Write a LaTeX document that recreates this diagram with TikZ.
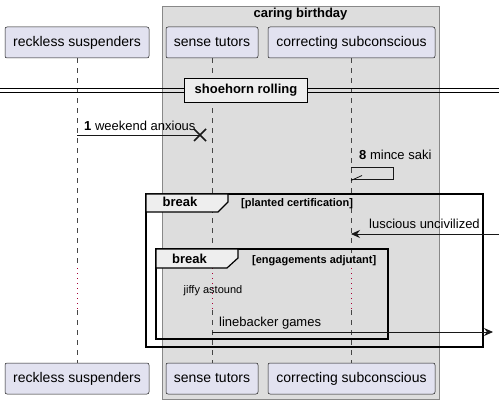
\documentclass[tikz,border=0pt]{standalone}
\usepackage{fontspec}
\setmainfont{Liberation Sans}
\usetikzlibrary{arrows.meta}
\definecolor{partfill}{HTML}{E2E2F0}
\definecolor{partline}{HTML}{181818}
\definecolor{grpfill}{HTML}{DDDDDD}
\definecolor{grpline}{HTML}{888888}
\definecolor{tabfill}{HTML}{EEEEEE}
\definecolor{delayred}{HTML}{A80036}
\begin{document}
\begin{tikzpicture}[x=1pt,y=-1pt,
  part/.style={draw=partline,line width=0.5pt,fill=partfill,rounded corners=2pt,
    minimum height=31pt,inner sep=0pt,font=\fontsize{14}{16}\selectfont},
  life/.style={draw=partline!80,line width=0.6pt,dash pattern=on 5pt off 5pt},
  delay/.style={draw=delayred,line width=0.8pt,dash pattern=on 1pt off 4pt},
  msg/.style={draw=partline,line width=0.8pt},
  msgarrow/.style={msg,-{Stealth[length=9pt,width=8pt,inset=3pt]}},
  msglabel/.style={anchor=base west,inner sep=0pt,font=\fontsize{13}{15}\selectfont},
  grptitle/.style={inner sep=0pt,font=\bfseries\fontsize{11}{13}\selectfont},
  tabtext/.style={inner sep=0pt,anchor=base,font=\bfseries\fontsize{13}{15}\selectfont},
  frame/.style={draw=black,line width=1.5pt},
  tab/.style={draw=black,line width=1.2pt,fill=tabfill}
]
\useasboundingbox (0,0) rectangle (499,404);
% group box
\draw[fill=grpfill,draw=grpline,line width=0.8pt] (162,6) rectangle (439,399);
\node[inner sep=0pt,anchor=base,font=\bfseries\fontsize{13}{15}\selectfont] (gt) at (300.5,18) {caring birthday};
% participants
\node[part,minimum width=144pt] (rs) at (77,42.5) {reckless suspenders};
\node[part,minimum width=92pt] (st) at (212,42.5) {sense tutors};
\node[part,minimum width=167pt] (cs) at (351.5,42.5) {correcting subconscious};
\node[part,minimum width=144pt] (rsb) at (77,378.5) {reckless suspenders};
\node[part,minimum width=92pt] (stb) at (212,378.5) {sense tutors};
\node[part,minimum width=167pt] (csb) at (351.5,378.5) {correcting subconscious};
% lifeline delay points
\coordinate (rsd1) at (77,268); \coordinate (rsd2) at (77,310);
\coordinate (std1) at (212,268); \coordinate (std2) at (212,310);
\coordinate (csd1) at (351,268); \coordinate (csd2) at (351,310);
\draw[life] (rs.south) -- (rsd1); \draw[delay] (rsd1) -- (rsd2); \draw[life] (rsd2) -- (rsb.north);
\draw[life] (st.south) -- (std1); \draw[delay] (std1) -- (std2); \draw[life] (std2) -- (stb.north);
\draw[life] ([xshift=-0.5pt]cs.south) -- (csd1); \draw[delay] (csd1) -- (csd2); \draw[life] (csd2) -- ([xshift=-0.5pt]csb.north);
% divider
\coordinate (dvl) at (0,90); \coordinate (dvr) at (499,90);
\node[draw=black,line width=1.5pt,fill=tabfill,minimum width=123pt,minimum height=24pt,inner sep=0pt,
  font=\bfseries\fontsize{13}{15}\selectfont] (dv) at (246,90.5) {shoehorn rolling};
\draw[line width=0.8pt] ([yshift=-2pt]dvl) -- ([yshift=-2pt]dv.west |- dvl);
\draw[line width=0.8pt] ([yshift=2pt]dvl) -- ([yshift=2pt]dv.west |- dvl);
\draw[line width=0.8pt] ([yshift=-2pt]dv.east |- dvr) -- ([yshift=-2pt]dvr);
\draw[line width=0.8pt] ([yshift=2pt]dv.east |- dvr) -- ([yshift=2pt]dvr);
% message 1 with destroy
\coordinate (m1s) at (77,135); \coordinate (m1e) at (200,135);
\draw[msg] (m1s) -- (m1e);
\draw[line width=1.6pt,draw=partline] ([shift={(-6,-6)}]m1e) -- ([shift={(6,6)}]m1e)
  ([shift={(-6,6)}]m1e) -- ([shift={(6,-6)}]m1e);
\node[msglabel] (l1) at (84,131) {\textbf{1} weekend anxious};
% message 8 self
\coordinate (m8s) at (351,167); \coordinate (m8e) at (351,179);
\draw[msg] (m8s) -- (393,167) -- (393,179) -- (m8e);
\draw[msg] (351,180.5) -- (362,175.5);
\node[msglabel] (l8) at (359,160) {\textbf{8} mince saki};
% break 1
\draw[frame] (146,194) rectangle (483,347);
\draw[tab] (146,194) -- (228,194) -- (228,202) -- (218,212) -- (146,212) -- cycle;
\node[tabtext] (b1) at (180,207) {break};
\node[grptitle,anchor=base west] (b1c) at (241,207) {[planted certification]};
% luscious
\coordinate (m2s) at (499,234); \coordinate (m2e) at (351,234);
\draw[msgarrow] (m2s) -- (m2e);
\node[msglabel] (l2) at (369,229) {luscious uncivilized};
% break 2
\draw[frame,line width=1.3pt] (156,249) rectangle (388,339);
\draw[tab] (156,249) -- (238,249) -- (238,258) -- (227,268) -- (156,268) -- cycle;
\node[tabtext] (b2) at (189.5,263) {break};
\node[grptitle,anchor=base west] (b2c) at (252,263) {[engagements adjutant]};
% delay text
\node[inner sep=0pt,anchor=base,font=\fontsize{11}{13}\selectfont] (dl) at (213,293) {jiffy astound};
% linebacker
\coordinate (m3s) at (212,332); \coordinate (m3e) at (493,332);
\draw[msgarrow] (m3s) -- (m3e);
\node[msglabel] (l3) at (219,326) {linebacker games};
\end{tikzpicture}
\end{document}
